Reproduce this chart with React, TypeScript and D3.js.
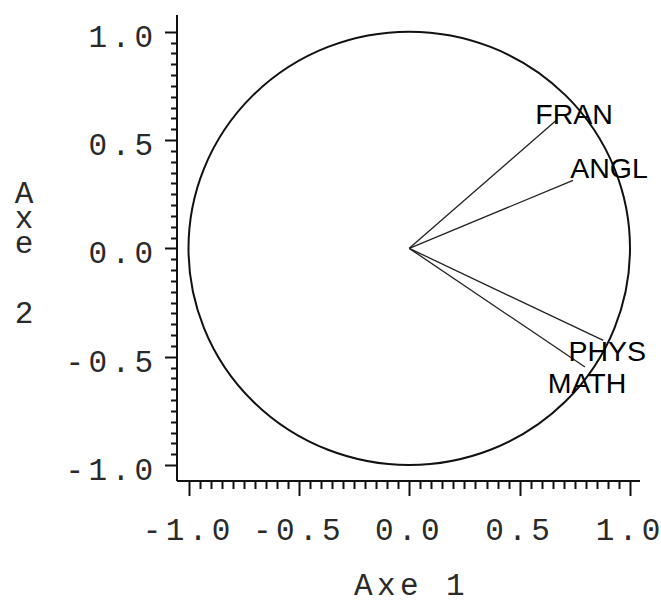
import React from "react";
import * as d3 from "d3";

const variables = ["FRAN", "ANGL", "PHYS", "MATH"];
const axis1 = [0.665, 0.742, 0.879, 0.796];
const axis2 = [0.59, 0.314, -0.425, -0.548];
const majorTicks = [-1.0, -0.5, 0.0, 0.5, 1.0];
const xTitle = "Axe 1";
const yTitle = "Axe 2";

// label placement (pixels, relative to the vector tip) – layout only
const labelOffsets: Record<string, [number, number]> = {
  FRAN: [18, 3],
  ANGL: [36, -2],
  PHYS: [4, 21],
  MATH: [2, 26],
};

const W = 661;
const H = 604;
const MONO = "'Liberation Mono', 'Courier New', monospace";
const FS = 31;
const ADV = 23;

function MonoText({
  text,
  x,
  y,
  anchor,
}: {
  text: string;
  x: number;
  y: number;
  anchor: "middle" | "end";
}) {
  const chars = text.split("");
  const n = chars.length;
  const charW = 0.6 * FS;
  const total = (n - 1) * ADV + charW;
  const start = anchor === "middle" ? x - total / 2 : x - total;
  const xs = chars.map((_, i) => (start + i * ADV).toFixed(2)).join(" ");
  return (
    <text x={xs} y={y} fontFamily={MONO} fontSize={FS} fill="#2a2a2a">
      {text}
    </text>
  );
}

export default function App() {
  const x = d3.scaleLinear().domain([-1, 1]).range([188.5, 630]);
  const y = d3.scaleLinear().domain([-1, 1]).range([465, 31.7]);
  const minor = d3.range(-20, 21).map((i) => i * 0.05);
  const fmt = (v: number) => d3.format(".1f")(v).replace("\u2212", "-");

  const axisX0 = 177;
  const axisY0 = 481;
  const axisTop = 15;
  const axisRight = 640;

  const yTitleBaselines = [203, 228, 253, 278, 323];

  return (
    <svg
      width={W}
      height={H}
      style={{ position: "absolute", left: 0, top: 0, background: "#fff" }}
    >
      {/* circle */}
      <ellipse
        cx={x(0)}
        cy={y(0)}
        rx={x(1) - x(0)}
        ry={y(0) - y(1)}
        fill="none"
        stroke="#111"
        strokeWidth={2}
      />
      {/* vectors */}
      {variables.map((v, i) => (
        <line
          key={"l" + v}
          x1={x(0)}
          y1={y(0)}
          x2={x(axis1[i])}
          y2={y(axis2[i])}
          stroke="#222"
          strokeWidth={1.3}
        />
      ))}
      {variables.map((v, i) => (
        <text
          key={"t" + v}
          x={x(axis1[i]) + labelOffsets[v][0]}
          y={y(axis2[i]) + labelOffsets[v][1]}
          textAnchor="middle"
          fontFamily="'Liberation Sans', Arial, sans-serif"
          fontSize={28.5}
          fill="#000"
        >
          {v}
        </text>
      ))}
      {/* y axis */}
      <line x1={axisX0} y1={axisTop} x2={axisX0} y2={axisY0} stroke="#111" strokeWidth={2} />
      {minor.map((t, i) => {
        const major = Math.abs(t * 2 - Math.round(t * 2)) < 1e-9;
        return (
          <line
            key={"ym" + i}
            x1={axisX0 - (major ? 12 : 6)}
            x2={axisX0}
            y1={Math.round(y(t)) + 0.5}
            y2={Math.round(y(t)) + 0.5}
            stroke="#111"
            strokeWidth={2}
          />
        );
      })}
      {majorTicks.map((t) => (
        <MonoText key={"yl" + t} text={fmt(t)} x={153} y={y(t) + 15} anchor="end" />
      ))}
      {/* x axis */}
      <line x1={axisX0} y1={axisY0} x2={axisRight} y2={axisY0} stroke="#111" strokeWidth={2} />
      {minor.map((t, i) => {
        const major = Math.abs(t * 2 - Math.round(t * 2)) < 1e-9;
        return (
          <line
            key={"xm" + i}
            x1={Math.round(x(t)) + 0.5}
            x2={Math.round(x(t)) + 0.5}
            y1={axisY0}
            y2={axisY0 + (major ? 15 : 8)}
            stroke="#111"
            strokeWidth={2}
          />
        );
      })}
      {majorTicks.map((t) => (
        <MonoText key={"xl" + t} text={fmt(t)} x={x(t) - 2} y={540} anchor="middle" />
      ))}
      {/* axis titles */}
      <MonoText text={xTitle} x={x(0)} y={595} anchor="middle" />
      <text
        x={yTitle.split("").map(() => 24).join(" ")}
        y={yTitle
          .split("")
          .map((_, i) => yTitleBaselines[i])
          .join(" ")}
        textAnchor="middle"
        fontFamily={MONO}
        fontSize={FS}
        fill="#2a2a2a"
      >
        {yTitle}
      </text>
    </svg>
  );
}
